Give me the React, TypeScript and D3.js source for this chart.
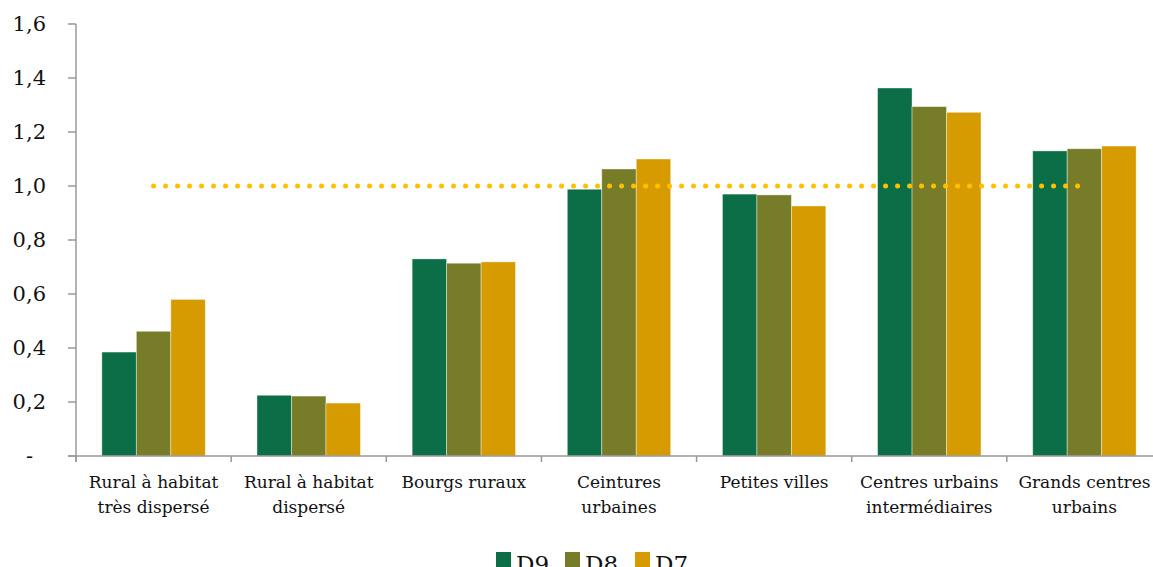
import React from "react";
import * as d3 from "d3";

const categories: string[][] = [
  ["Rural à habitat", "très dispersé"],
  ["Rural à habitat", "dispersé"],
  ["Bourgs ruraux"],
  ["Ceintures", "urbaines"],
  ["Petites villes"],
  ["Centres urbains", "intermédiaires"],
  ["Grands centres", "urbains"],
];
const seriesNames = ["D9", "D8", "D7"];
const d9 = [0.385, 0.225, 0.73, 0.988, 0.97, 1.363, 1.13];
const d8 = [0.462, 0.222, 0.714, 1.063, 0.967, 1.294, 1.138];
const d7 = [0.58, 0.196, 0.719, 1.1, 0.926, 1.273, 1.148];
const yTicks = [0, 0.2, 0.4, 0.6, 0.8, 1.0, 1.2, 1.4, 1.6];
const refValue = 1.0;
const colors = ["#0C6E47", "#767C27", "#D69B00"];

const W = 1153;
const H = 567;
const left = 76;
const right = 1162;
const top = 24;
const bottom = 456;
const font = "'DejaVu Serif', serif";

export default function App() {
  const series = [d9, d8, d7];
  const idx = categories.map((_, i) => String(i));
  const x = d3.scaleBand<string>().domain(idx).range([left, right]).paddingInner(0).paddingOuter(0);
  const inner = d3.scaleBand<string>().domain(seriesNames).range([0, x.bandwidth()]).paddingOuter(0.75).paddingInner(0);
  const y = d3.scaleLinear().domain([0, 1.6]).range([bottom, top]);
  const fmt = (v: number) => (v === 0 ? "-" : d3.format(".1f")(v).replace(".", ","));
  const boundaries = d3.range(categories.length + 1).map((i) => left + i * x.step());
  const line = d3.line<number>().x((d) => d).y(() => y(refValue));
  const x0 = (x("0") ?? 0) + x.bandwidth() / 2;
  const x1 = (x(String(categories.length - 1)) ?? 0) + x.bandwidth() / 2;

  return (
    <svg width={W} height={H} style={{ position: "absolute", left: 0, top: 0, background: "#fff" }}>
      {/* y axis */}
      <line x1={left} x2={left} y1={top} y2={bottom + 6} stroke="#999" strokeWidth={1.5} />
      {yTicks.map((t) => (
        <g key={t}>
          <line x1={left - 8} x2={left} y1={y(t)} y2={y(t)} stroke="#999" strokeWidth={1.5} />
          <text x={t === 0 ? 33 : 46} y={y(t)} dy="0.35em" textAnchor="end" fontFamily={font} fontSize={21} fill="#111">
            {fmt(t)}
          </text>
        </g>
      ))}
      {/* bars */}
      {categories.map((_, i) => (
        <g key={i} transform={`translate(${x(String(i))},0)`}>
          {seriesNames.map((s, j) => (
            <rect
              key={s}
              x={inner(s)}
              y={y(series[j][i])}
              width={inner.bandwidth()}
              height={bottom - y(series[j][i])}
              fill={colors[j]}
              stroke="#ffffff"
              strokeOpacity={0.5}
              strokeWidth={0.8}
            />
          ))}
        </g>
      ))}
      {/* x axis */}
      <line x1={left - 8} x2={right} y1={bottom} y2={bottom} stroke="#999" strokeWidth={1.5} />
      {boundaries.map((b, i) => (
        <line key={i} x1={b} x2={b} y1={bottom} y2={bottom + 6} stroke="#999" strokeWidth={1.5} />
      ))}
      {categories.map((lines, i) => (
        <text key={i} textAnchor="middle" fontFamily={font} fontSize={17} fill="#111">
          {lines.map((l, k) => (
            <tspan key={k} x={(x(String(i)) ?? 0) + x.bandwidth() / 2} y={488 + k * 25}>
              {l}
            </tspan>
          ))}
        </text>
      ))}
      {/* reference line */}
      <path
        d={line([x0, x1]) ?? ""}
        stroke="#FFC000"
        strokeWidth={5}
        strokeLinecap="round"
        strokeDasharray="0 12"
        fill="none"
      />
      {/* legend */}
      {seriesNames.map((s, j) => {
        const lx = [496, 565, 635][j];
        return (
          <g key={s}>
            <rect x={lx} y={552} width={15} height={15} fill={colors[j]} />
            <text x={lx + 20} y={572} fontFamily={font} fontSize={23} fill="#111">
              {s}
            </text>
          </g>
        );
      })}
    </svg>
  );
}
